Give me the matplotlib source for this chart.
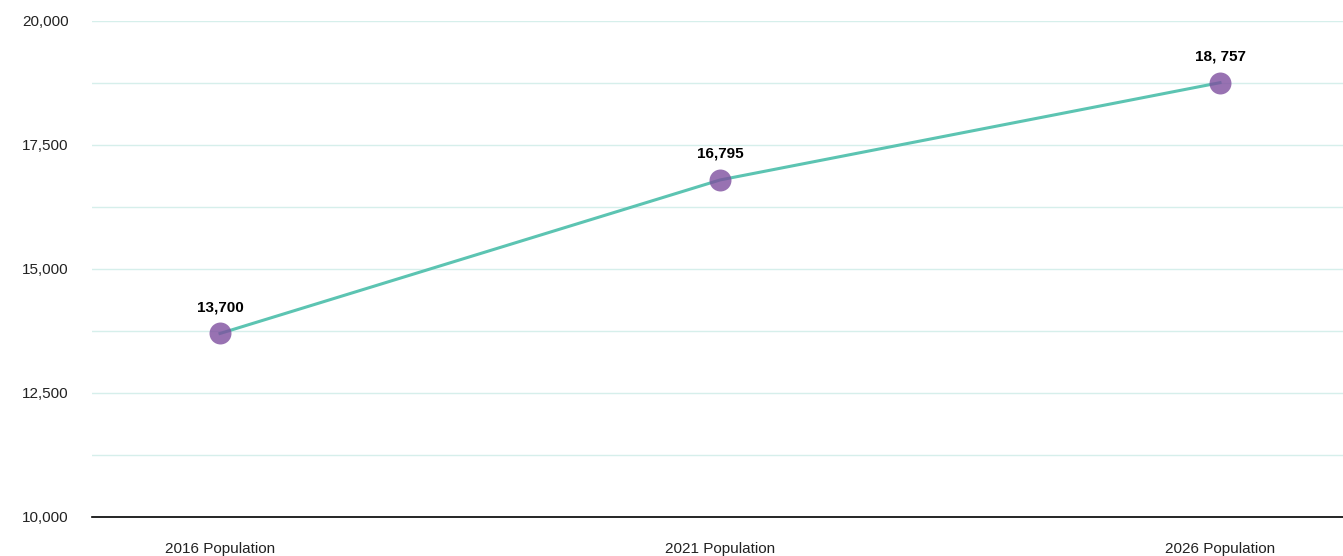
import matplotlib.pyplot as plt
import numpy as np
from matplotlib.ticker import FuncFormatter, MultipleLocator

categories = ['2016 Population', '2021 Population', '2026 Population']
population = [13700, 16795, 18757]
point_labels = ['13,700', '16,795', '18, 757']

plt.rcParams['font.family'] = ['Liberation Sans', 'DejaVu Sans']

fig = plt.figure(figsize=(13.43, 5.56), dpi=100)
ax = fig.add_axes([92 / 1343, 39 / 556, 1 - 92 / 1343, (517 - 21) / 556])

x = np.arange(len(categories))
ax.plot(x, population, color='#5cc4b2', linewidth=2.2, zorder=3)
ax.scatter(x, population, s=250, color='#7f4f9f', alpha=0.8, zorder=4, linewidths=0)

for xi, yi, lab in zip(x, population, point_labels):
    ax.annotate(lab, (xi, yi), xytext=(0, 14), textcoords='offset points',
                ha='center', va='bottom', fontsize=11, fontweight='bold', color='black')

ax.set_ylim(10000, 20000)
ax.set_xlim(-0.256, 2.246)
ax.yaxis.set_major_locator(MultipleLocator(2500))
ax.yaxis.set_minor_locator(MultipleLocator(1250))
ax.yaxis.set_major_formatter(FuncFormatter(lambda v, p: f'{v:,.0f}'))
ax.grid(axis='y', which='both', color='#d6efeb', linewidth=1)
ax.set_axisbelow(True)

ax.set_xticks(x)
ax.set_xticklabels(categories)
ax.tick_params(axis='both', which='both', length=0, labelsize=11, colors='#222222')
ax.tick_params(axis='x', pad=18)
ax.tick_params(axis='y', pad=17)

for s in ['top', 'right', 'left']:
    ax.spines[s].set_visible(False)
ax.spines['bottom'].set_color('black')
ax.spines['bottom'].set_linewidth(1.2)

fig.savefig('out.png', dpi=100)
